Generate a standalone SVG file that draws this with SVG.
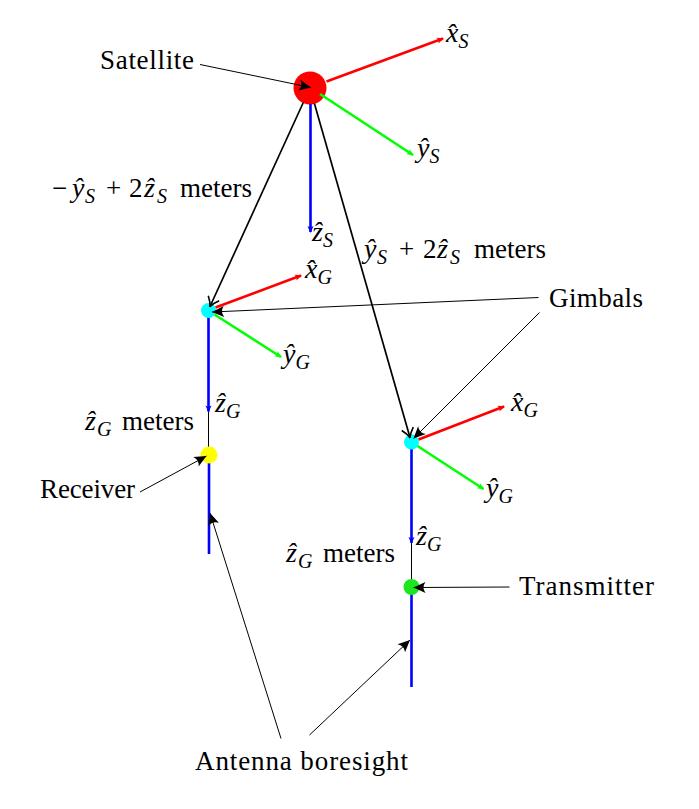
<svg xmlns="http://www.w3.org/2000/svg" width="699" height="809" viewBox="0 0 699 809">
<style>
.lbl{font-family:"Liberation Serif","Times New Roman",serif;font-size:27px;fill:#000}
.m{font-family:"Liberation Serif","Times New Roman",serif;font-style:italic;font-size:28px;fill:#000}
.s{font-size:20px;font-style:italic}
.up{font-style:normal;font-size:27px}
.thin{stroke:#000;stroke-width:1;fill:none}
.thick{stroke:#000;stroke-width:1.7;fill:none}
.ax{stroke-width:2.6;fill:none}
.r{stroke:#ff0000}.g{stroke:#00ff00}.b{stroke:#0000ff}
</style>
<defs>
<marker id="ah" viewBox="-13 -6 14 12" refX="0" refY="0" markerWidth="14" markerHeight="12" markerUnits="userSpaceOnUse" orient="auto">
<path d="M0,0 L-12,-5.5 Q-8,0 -12,5.5 Z" fill="#000"/>
</marker>
<marker id="op" viewBox="-11 -7 12 14" refX="0" refY="0" markerWidth="12" markerHeight="14" markerUnits="userSpaceOnUse" orient="auto">
<path d="M-9,-6 Q-4,-1.5 0,0 Q-4,1.5 -9,6" fill="none" stroke="#000" stroke-width="1.6"/>
</marker>
<marker id="ar" viewBox="-7 -4 8 8" refX="0" refY="0" markerWidth="8" markerHeight="8" markerUnits="userSpaceOnUse" orient="auto">
<path d="M1,0 L-6,-3 L-4.5,0 L-6,3 Z" fill="#ff0000"/>
</marker>
<marker id="ag" viewBox="-7 -4 8 8" refX="0" refY="0" markerWidth="8" markerHeight="8" markerUnits="userSpaceOnUse" orient="auto">
<path d="M1,0 L-6,-3 L-4.5,0 L-6,3 Z" fill="#00ff00"/>
</marker>
<marker id="ab" viewBox="-7 -4 8 8" refX="0" refY="0" markerWidth="8" markerHeight="8" markerUnits="userSpaceOnUse" orient="auto">
<path d="M1,0 L-6,-3 L-4.5,0 L-6,3 Z" fill="#0000ff"/>
</marker>
</defs>
<rect width="699" height="809" fill="#fff"/>

<g id="satellite">
<circle cx="310" cy="88" r="16.5" fill="#ff0000"/>
<line class="ax r" x1="326.5" y1="81.5" x2="443" y2="38.5" marker-end="url(#ar)"/>
<line class="ax g" x1="320" y1="94" x2="413" y2="155" marker-end="url(#ag)"/>
<line class="ax b" x1="310.5" y1="104" x2="310.5" y2="232" marker-end="url(#ab)"/>
<text class="m" x="446" y="42">x̂<tspan class="s" dy="6">S</tspan></text>
<text class="m" x="417" y="157">ŷ<tspan class="s" dy="6">S</tspan></text>
<text class="m" x="312" y="241">ẑ<tspan class="s" dy="6">S</tspan></text>
<text class="lbl" x="100" y="69" textLength="94">Satellite</text>
</g>

<g id="gimbal-left">
<line class="ax b" x1="208.5" y1="317" x2="208.5" y2="411.5" marker-end="url(#ab)"/>
<circle cx="208.5" cy="310.5" r="7.5" fill="#00ffff"/>
<line class="ax r" x1="215.5" y1="307.5" x2="301" y2="275.5" marker-end="url(#ar)"/>
<line class="ax g" x1="214.5" y1="314.5" x2="281" y2="357" marker-end="url(#ag)"/>
<text class="m" x="305" y="278">x̂<tspan class="s" dy="6">G</tspan></text>
<text class="m" x="283" y="363">ŷ<tspan class="s" dy="6">G</tspan></text>
<text class="m" x="215" y="412">ẑ<tspan class="s" dy="6">G</tspan></text>
<line class="thin" x1="208.5" y1="411.5" x2="208.5" y2="450"/>
<text class="m" x="85" y="430">ẑ<tspan class="s" x="97" dy="6">G</tspan><tspan class="up" x="122" dy="-6">meters</tspan></text>
</g>

<g id="receiver">
<line class="ax b" x1="209" y1="460" x2="209" y2="554"/>
<circle cx="209" cy="455" r="8.5" fill="#ffff00"/>
<text class="lbl" x="40" y="498" textLength="95">Receiver</text>
</g>

<g id="gimbal-right">
<line class="ax b" x1="411.5" y1="448" x2="411.5" y2="543" marker-end="url(#ab)"/>
<circle cx="411.5" cy="442" r="7.5" fill="#00ffff"/>
<line class="ax r" x1="418.5" y1="439.5" x2="504" y2="406.5" marker-end="url(#ar)"/>
<line class="ax g" x1="417.5" y1="446" x2="483.5" y2="489" marker-end="url(#ag)"/>
<text class="m" x="511" y="411">x̂<tspan class="s" dy="6">G</tspan></text>
<text class="m" x="486" y="497">ŷ<tspan class="s" dy="6">G</tspan></text>
<text class="m" x="416" y="545">ẑ<tspan class="s" dy="6">G</tspan></text>
<line class="thin" x1="411.5" y1="543" x2="411.5" y2="582"/>
<text class="m" x="286" y="562">ẑ<tspan class="s" x="298" dy="6">G</tspan><tspan class="up" x="323" dy="-6">meters</tspan></text>
</g>

<g id="transmitter">
<line class="ax b" x1="411.5" y1="592" x2="411.5" y2="687"/>
<circle cx="411.5" cy="587" r="8" fill="#1ee61e"/>
<text class="lbl" x="519" y="595" textLength="135">Transmitter</text>
</g>

<g id="labels">
<text class="m" x="52" y="197"><tspan class="up">−</tspan><tspan x="72">ŷ</tspan><tspan class="s" x="85" dy="6">S</tspan><tspan class="up" x="106" dy="-6">+</tspan><tspan class="up" x="129">2</tspan><tspan x="144">ẑ</tspan><tspan class="s" x="157" dy="6">S</tspan><tspan class="up" x="180" dy="-6">meters</tspan></text>
<text class="m" x="364" y="258">ŷ<tspan class="s" x="377" dy="6">S</tspan><tspan class="up" x="399" dy="-6">+</tspan><tspan class="up" x="423">2</tspan><tspan x="437">ẑ</tspan><tspan class="s" x="450" dy="6">S</tspan><tspan class="up" x="474" dy="-6">meters</tspan></text>
<text class="lbl" x="549" y="307" textLength="94">Gimbals</text>
<text class="lbl" x="195" y="770" textLength="213">Antenna boresight</text>
</g>

<g id="connectors">
<line class="thick" x1="303.3" y1="102.5" x2="210" y2="306.5" marker-end="url(#op)"/>
<line class="thick" x1="314.4" y1="103.4" x2="410" y2="437.5" marker-end="url(#op)"/>
<line class="thin" x1="200" y1="64.5" x2="311" y2="87.5" marker-end="url(#ah)"/>
<line class="thin" x1="538.5" y1="297.5" x2="212" y2="312" marker-end="url(#ah)"/>
<line class="thin" x1="539.5" y1="312.5" x2="413.5" y2="438.5" marker-end="url(#ah)"/>
<line class="thin" x1="140" y1="492" x2="206.5" y2="456" marker-end="url(#ah)"/>
<line class="thin" x1="509.5" y1="587" x2="413.5" y2="587.5" marker-end="url(#ah)"/>
<line class="thin" x1="281" y1="738.5" x2="210" y2="513" marker-end="url(#ah)"/>
<line class="thin" x1="309.5" y1="735" x2="410" y2="640" marker-end="url(#ah)"/>
</g>
</svg>
